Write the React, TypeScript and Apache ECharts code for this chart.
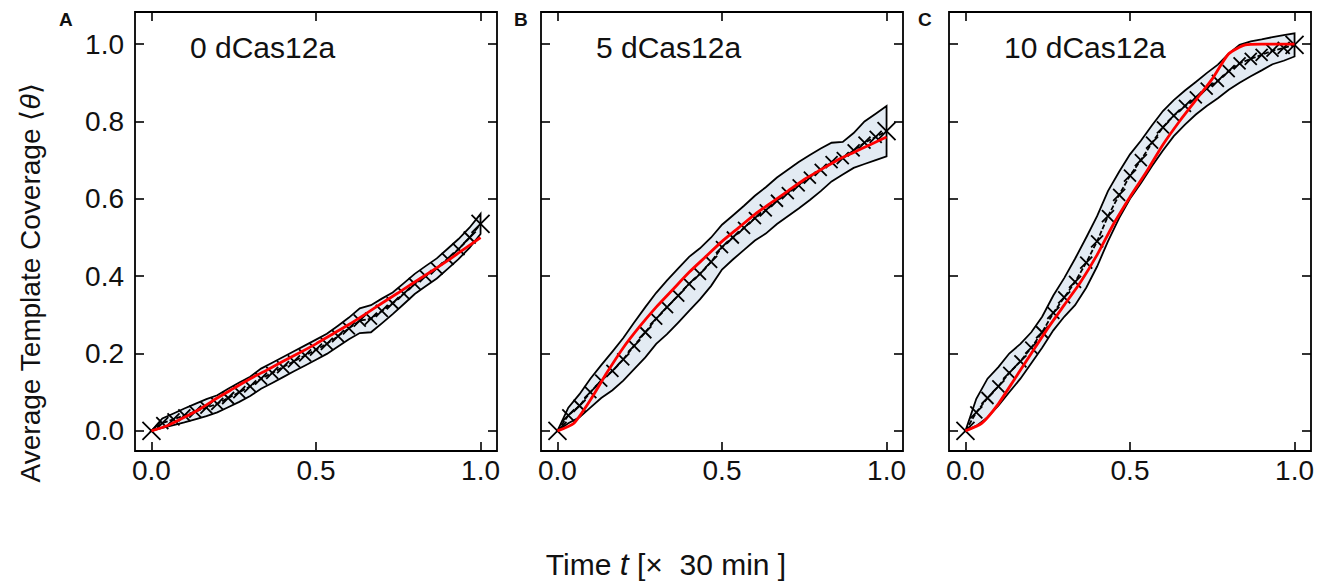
import React, { useEffect, useRef } from "react";
import * as echarts from "echarts";

const timeT = [0, 0.033, 0.067, 0.1, 0.133, 0.167, 0.2, 0.233, 0.267, 0.3, 0.333, 0.367, 0.4, 0.433, 0.467, 0.5, 0.533, 0.567, 0.6, 0.633, 0.667, 0.7, 0.733, 0.767, 0.8, 0.833, 0.867, 0.9, 0.933, 0.967, 1.0];
const timeRed = [0, 0.05, 0.1, 0.15, 0.2, 0.25, 0.3, 0.35, 0.4, 0.45, 0.5, 0.55, 0.6, 0.65, 0.7, 0.75, 0.8, 0.85, 0.9, 0.95, 1.0];

const meanA = [0, 0.02, 0.03, 0.04, 0.05, 0.06, 0.07, 0.085, 0.1, 0.115, 0.135, 0.15, 0.165, 0.18, 0.195, 0.21, 0.225, 0.245, 0.265, 0.285, 0.29, 0.31, 0.33, 0.355, 0.38, 0.4, 0.42, 0.445, 0.47, 0.5, 0.535];
const upperA = [0, 0.032, 0.045, 0.058, 0.07, 0.082, 0.092, 0.109, 0.125, 0.14, 0.161, 0.176, 0.191, 0.206, 0.221, 0.236, 0.251, 0.272, 0.293, 0.317, 0.325, 0.342, 0.358, 0.382, 0.406, 0.426, 0.446, 0.471, 0.496, 0.526, 0.561];
const lowerA = [0, 0.008, 0.015, 0.022, 0.03, 0.038, 0.048, 0.061, 0.075, 0.09, 0.109, 0.124, 0.139, 0.154, 0.169, 0.184, 0.199, 0.218, 0.237, 0.253, 0.255, 0.278, 0.302, 0.328, 0.354, 0.374, 0.394, 0.419, 0.444, 0.474, 0.509];
const redA = [0, 0.014, 0.035, 0.058, 0.085, 0.11, 0.135, 0.157, 0.18, 0.202, 0.225, 0.25, 0.275, 0.302, 0.33, 0.357, 0.385, 0.412, 0.44, 0.47, 0.5];

const meanB = [0, 0.04, 0.065, 0.1, 0.13, 0.155, 0.185, 0.22, 0.255, 0.29, 0.32, 0.35, 0.38, 0.406, 0.437, 0.475, 0.5, 0.525, 0.55, 0.57, 0.595, 0.615, 0.635, 0.655, 0.675, 0.695, 0.705, 0.725, 0.745, 0.76, 0.775];
const upperB = [0, 0.06, 0.095, 0.135, 0.17, 0.205, 0.24, 0.28, 0.32, 0.357, 0.389, 0.42, 0.45, 0.472, 0.5, 0.533, 0.557, 0.582, 0.608, 0.63, 0.655, 0.675, 0.695, 0.713, 0.73, 0.745, 0.747, 0.77, 0.8, 0.82, 0.84];
const lowerB = [0, 0.02, 0.035, 0.06, 0.085, 0.105, 0.13, 0.16, 0.19, 0.225, 0.25, 0.28, 0.31, 0.34, 0.375, 0.417, 0.443, 0.468, 0.492, 0.51, 0.535, 0.555, 0.575, 0.597, 0.62, 0.645, 0.663, 0.68, 0.69, 0.7, 0.71];
const redB = [0, 0.02, 0.08, 0.15, 0.215, 0.27, 0.32, 0.365, 0.41, 0.45, 0.49, 0.525, 0.56, 0.59, 0.62, 0.65, 0.675, 0.7, 0.72, 0.74, 0.76];

const meanC = [0, 0.048, 0.085, 0.115, 0.15, 0.18, 0.215, 0.255, 0.305, 0.345, 0.385, 0.435, 0.49, 0.555, 0.61, 0.66, 0.7, 0.745, 0.785, 0.815, 0.84, 0.862, 0.885, 0.905, 0.93, 0.95, 0.962, 0.972, 0.983, 0.99, 0.998];
const upperC = [0, 0.083, 0.135, 0.165, 0.2, 0.225, 0.255, 0.295, 0.35, 0.395, 0.445, 0.5, 0.555, 0.62, 0.67, 0.715, 0.75, 0.79, 0.827, 0.855, 0.88, 0.902, 0.925, 0.947, 0.975, 0.998, 1.007, 1.012, 1.018, 1.023, 1.028];
const lowerC = [0, 0.013, 0.035, 0.065, 0.1, 0.135, 0.175, 0.215, 0.26, 0.295, 0.325, 0.37, 0.425, 0.49, 0.55, 0.6, 0.64, 0.685, 0.725, 0.762, 0.792, 0.818, 0.84, 0.86, 0.882, 0.9, 0.917, 0.932, 0.948, 0.957, 0.968];
const redC = [0, 0.02, 0.07, 0.135, 0.2, 0.265, 0.325, 0.385, 0.455, 0.535, 0.605, 0.67, 0.74, 0.8, 0.855, 0.91, 0.975, 0.998, 1.0, 1.0, 1.0];

const panelNames = ["0 dCas12a", "5 dCas12a", "10 dCas12a"];
const panelLetters = ["A", "B", "C"];
const xTicks = [0, 0.5, 1.0];
const yTicks = [0, 0.2, 0.4, 0.6, 0.8, 1.0];

const panels = [
  { mean: meanA, upper: upperA, lower: lowerA, red: redA },
  { mean: meanB, upper: upperB, lower: lowerB, red: redB },
  { mean: meanC, upper: upperC, lower: lowerC, red: redC },
];

const FONT = "'Liberation Sans', Arial, sans-serif";
const gridLefts = [135, 541, 949];
const letterLefts = [59, 514, 918];
const GRID_TOP = 12;
const GRID_W = 362;
const GRID_H = 439;
const X_MIN = -0.05;
const X_MAX = 1.05;
const Y_MIN = -0.052;
const Y_MAX = 1.083;
const xSym = "path://M0,0L10,10M10,0L0,10";

export default function App() {
  const ref = useRef<HTMLDivElement>(null);
  useEffect(() => {
    if (!ref.current) return;
    const chart = echarts.init(ref.current, null, { renderer: "svg" });
    const grids: any[] = [];
    const xAxes: any[] = [];
    const yAxes: any[] = [];
    const series: any[] = [];
    const graphics: any[] = [];
    panels.forEach((p, i) => {
      grids.push({
        left: gridLefts[i], top: GRID_TOP, width: GRID_W, height: GRID_H,
        show: true, borderColor: "#000", borderWidth: 1.8, backgroundColor: "transparent",
      });
      const tickCommon = { show: true, inside: true, length: 9, lineStyle: { color: "#000", width: 1.6 } };
      ["bottom", "top"].forEach((pos) => {
        xAxes.push({
          gridIndex: i, type: "value", position: pos, min: X_MIN, max: X_MAX,
          axisLine: { show: false, onZero: false }, splitLine: { show: false },
          axisTick: { ...tickCommon, customValues: xTicks },
          axisLabel: pos === "bottom"
            ? { show: true, customValues: xTicks, fontSize: 28, fontFamily: FONT, color: "#111", margin: 5, formatter: (v: number) => v.toFixed(1) }
            : { show: false },
        });
      });
      ["left", "right"].forEach((pos) => {
        yAxes.push({
          gridIndex: i, type: "value", position: pos, min: Y_MIN, max: Y_MAX,
          axisLine: { show: false, onZero: false }, splitLine: { show: false },
          axisTick: { ...tickCommon, customValues: yTicks },
          axisLabel: pos === "left" && i === 0
            ? { show: true, customValues: yTicks, fontSize: 28, fontFamily: FONT, color: "#111", margin: 11, formatter: (v: number) => v.toFixed(1) }
            : { show: false },
        });
      });
      const xi = i * 2;
      const yi = i * 2;
      const bandData = timeT.map((t, k) => [t, p.lower[k], p.upper[k]]);
      series.push({
        type: "custom", xAxisIndex: xi, yAxisIndex: yi, data: bandData, z: 1,
        encode: { x: 0, y: [1, 2] },
        renderItem: (params: any, api: any) => {
          if (params.dataIndex !== 0) return null;
          const up = timeT.map((t, k) => api.coord([t, p.upper[k]]));
          const lo = timeT.map((t, k) => api.coord([t, p.lower[k]])).reverse();
          return {
            type: "polygon",
            shape: { points: up.concat(lo) },
            style: { fill: "#e3ebf3", stroke: "#000", lineWidth: 1.8 },
          };
        },
      });
      const last = timeT.length - 1;
      series.push({
        type: "line", xAxisIndex: xi, yAxisIndex: yi, z: 3,
        data: timeT.map((t, k) => [t, p.mean[k]]),
        symbol: xSym,
        symbolSize: (_v: any, params: any) => (params.dataIndex === 0 || params.dataIndex === last ? 18 : 12),
        showAllSymbol: true,
        itemStyle: { color: "#000", borderColor: "#000", borderWidth: 1.8 },
        lineStyle: { color: "#000", width: 1.8, type: [5, 2] },
      });
      series.push({
        type: "line", xAxisIndex: xi, yAxisIndex: yi, z: 4,
        data: timeRed.map((t, k) => [t, p.red[k]]),
        symbol: "none", smooth: 0.2,
        lineStyle: { color: "#ff0000", width: 2.8 },
      });
      graphics.push({
        type: "text", x: gridLefts[i] + 55, y: 47,
        style: { text: panelNames[i], fontSize: 30, fontFamily: FONT, fill: "#111", verticalAlign: "middle" },
      });
      graphics.push({
        type: "text", x: letterLefts[i], y: 19,
        style: { text: panelLetters[i], fontSize: 19, fontWeight: "bold", fontFamily: FONT, fill: "#111", verticalAlign: "middle" },
      });
    });
    graphics.push({
      type: "text", x: 30, y: 283, rotation: Math.PI / 2,
      style: {
        text: "Average Template Coverage ⟨{i|θ}⟩", fontSize: 28, fontFamily: FONT, fill: "#111",
        align: "center", verticalAlign: "middle",
        rich: { i: { fontStyle: "italic", fontSize: 28, fontFamily: FONT, fill: "#111" } },
      },
    });
    graphics.push({
      type: "text", x: 666, y: 564,
      style: {
        text: "Time {i|t} [×  30 min ]", fontSize: 30, fontFamily: FONT, fill: "#111",
        align: "center", verticalAlign: "middle",
        rich: { i: { fontStyle: "italic", fontSize: 32, fontFamily: FONT, fill: "#111" } },
      },
    });
    chart.setOption({
      animation: false,
      backgroundColor: "#fff",
      grid: grids,
      xAxis: xAxes,
      yAxis: yAxes,
      series,
      graphic: graphics,
    });
    return () => chart.dispose();
  }, []);
  return <div ref={ref} style={{ position: "fixed", left: 0, top: 0, width: 1325, height: 583 }} />;
}
